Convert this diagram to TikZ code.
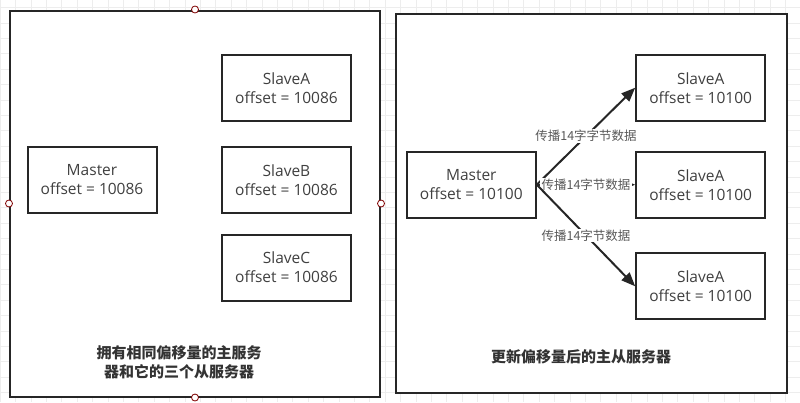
\documentclass[tikz,border=0pt]{standalone}
\usepackage{fontspec}
\setmainfont{Noto Sans CJK SC}
\newfontfamily\boxfont{Open Sans}
\usetikzlibrary{arrows.meta,positioning,calc}

\begin{document}
\begin{tikzpicture}[
    x=1pt, y=-1pt,
    frame/.style={rectangle, draw=black!85, line width=2pt, fill=white},
    server/.style={rectangle, draw=black!85, line width=2pt, fill=white, minimum width=129pt, minimum height=66pt, align=center, font=\boxfont\fontsize{15.5}{19}\selectfont, text=black!75},
    caption/.style={font=\fontsize{15}{19}\selectfont\bfseries, text=black!80, align=center},
    sync/.style={-{Triangle[length=14pt,width=11pt]}, line width=2pt, draw=black!85},
    tag/.style={font=\fontsize{12.5}{14}\selectfont, text=black!65, fill=white, inner sep=1pt},
    handle/.style={circle, draw=red!50!black, fill=white, line width=0.8pt, inner sep=0pt, minimum size=7pt},
    gridline/.style={draw=black!7, line width=0.5pt}
]
\useasboundingbox (0,0) rectangle (800,402);

% Background grid
\foreach \gx in {0,15.4,...,800} \draw[gridline] (\gx,0) -- (\gx,402);
\foreach \gy in {7.5,22.9,...,402} \draw[gridline] (0,\gy) -- (800,\gy);

% Before: same offset
\node[frame, minimum width=370pt, minimum height=386pt] (before) at (195,203.5) {};
\node[server] (masterL) at (92,180) {Master\\offset = 10086};
\node[server] (slaveAL) at (286.5,88) {SlaveA\\offset = 10086};
\node[server] (slaveBL) at (286.5,180) {SlaveB\\offset = 10086};
\node[server] (slaveCL) at (286.5,267.5) {SlaveC\\offset = 10086};
\node[caption] (capL) at (179,362.5) {拥有相同偏移量的主服务\\器和它的三个从服务器};

% Selection handles
\foreach \side in {north,west,east,south}
    \node[handle] (h-\side) at (before.\side) {};

% After: offset propagated
\node[frame, minimum width=391.5pt, minimum height=379pt] (after) at (591.5,203.7) {};
\node[server] (masterR) at (471.3,184.7) {Master\\offset = 10100};
\node[server] (slaveAR) at (700.7,87.7) {SlaveA\\offset = 10100};
\node[server] (slaveBR) at (700.7,184.7) {SlaveA\\offset = 10100};
\node[server] (slaveCR) at (700.7,286.3) {SlaveA\\offset = 10100};
\node[caption] (capR) at (581,356.7) {更新偏移量后的主从服务器};

\draw[sync] (masterR.east) -- node[tag] {传播14字字节数据} (slaveAR.west);
\draw[sync] (masterR.east) -- node[tag, inner xsep=2pt] {传播14字节数据} (slaveBR.west);
\draw[sync] (masterR.east) -- node[tag] {传播14字节数据} (slaveCR.west);

\end{tikzpicture}
\end{document}
